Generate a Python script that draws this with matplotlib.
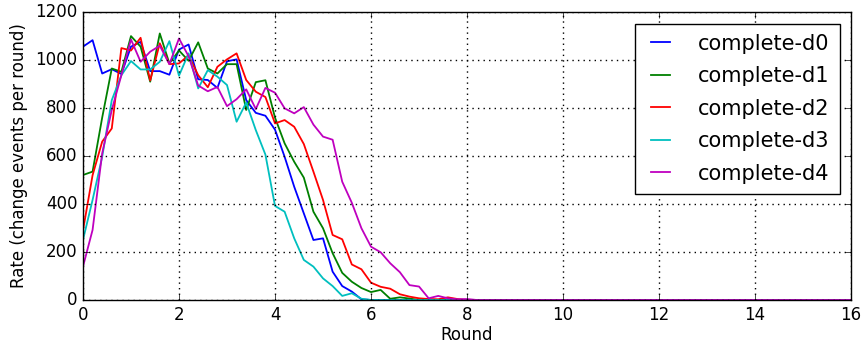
import numpy as np
import matplotlib
matplotlib.use("Agg")
import matplotlib.pyplot as plt

plt.style.use("classic")

# rounds sampled every 0.2, 0 .. 16
rounds = np.linspace(0, 16, 81)

d0 = [1056, 1083, 944, 962, 942, 1056, 1076, 954, 954, 939, 1044, 1065, 920,
      917, 884, 995, 1003, 833, 780, 768, 710, 597, 472, 361, 250, 257, 118,
      58, 35, 3]
d1 = [521, 535, 760, 965, 951, 1100, 1056, 910, 1111, 986, 1040, 997, 1074,
      965, 944, 983, 983, 792, 908, 916, 760, 653, 576, 510, 368, 299, 195,
      113, 76, 50, 33, 42, 5, 11, 6]
d2 = [290, 520, 660, 715, 1050, 1040, 1093, 915, 1070, 983, 986, 1020, 937,
      887, 972, 1003, 1028, 917, 868, 846, 736, 750, 722, 650, 535, 417, 271,
      253, 148, 128, 72, 55, 47, 24, 14, 7, 4, 3, 11, 4]
d3 = [250, 417, 597, 833, 937, 996, 961, 961, 993, 1079, 935, 1028, 882, 958,
      931, 896, 743, 823, 708, 606, 392, 368, 257, 167, 139, 90, 58, 17, 28, 5]
d4 = [139, 292, 611, 792, 937, 1086, 993, 1035, 1060, 983, 1090, 1016, 894,
      870, 888, 808, 837, 878, 796, 884, 864, 799, 778, 804, 731, 681, 668,
      493, 405, 299, 222, 199, 153, 116, 62, 56, 7, 17, 7, 3, 4]

series = [d0, d1, d2, d3, d4]
labels = ["complete-d0", "complete-d1", "complete-d2", "complete-d3", "complete-d4"]
colors = ["b", "g", "r", "c", "m"]


def pad(vals):
    # after the last reading every series sits at zero
    out = np.zeros(len(rounds))
    out[:len(vals)] = vals
    return out


fig = plt.figure(figsize=(8.67, 3.46), dpi=100, facecolor="white")
ax = fig.add_axes([0.0957, 0.133, 0.886, 0.832])

for vals, lab, col in zip(series, labels, colors):
    ax.plot(rounds, pad(vals), color=col, lw=1.3, label=lab)

ax.set_xlim(0, 16)
ax.set_ylim(0, 1200)
ax.set_xticks(np.arange(0, 17, 2))
ax.set_yticks(np.arange(0, 1201, 200))
ax.tick_params(labelsize=12)
ax.grid(True, color="k", linestyle=":", linewidth=1.0)
ax.set_xlabel("Round", fontsize=12, labelpad=2)
ax.set_ylabel("Rate (change events per round)", fontsize=12)

leg = ax.legend(loc="upper right", fontsize=15, handlelength=1.5,
                handletextpad=1.05, labelspacing=0.6, borderaxespad=0.55,
                borderpad=0.48, fancybox=False)
leg.get_frame().set_linewidth(1.0)

fig.savefig("out.png", dpi=100, facecolor="white")
